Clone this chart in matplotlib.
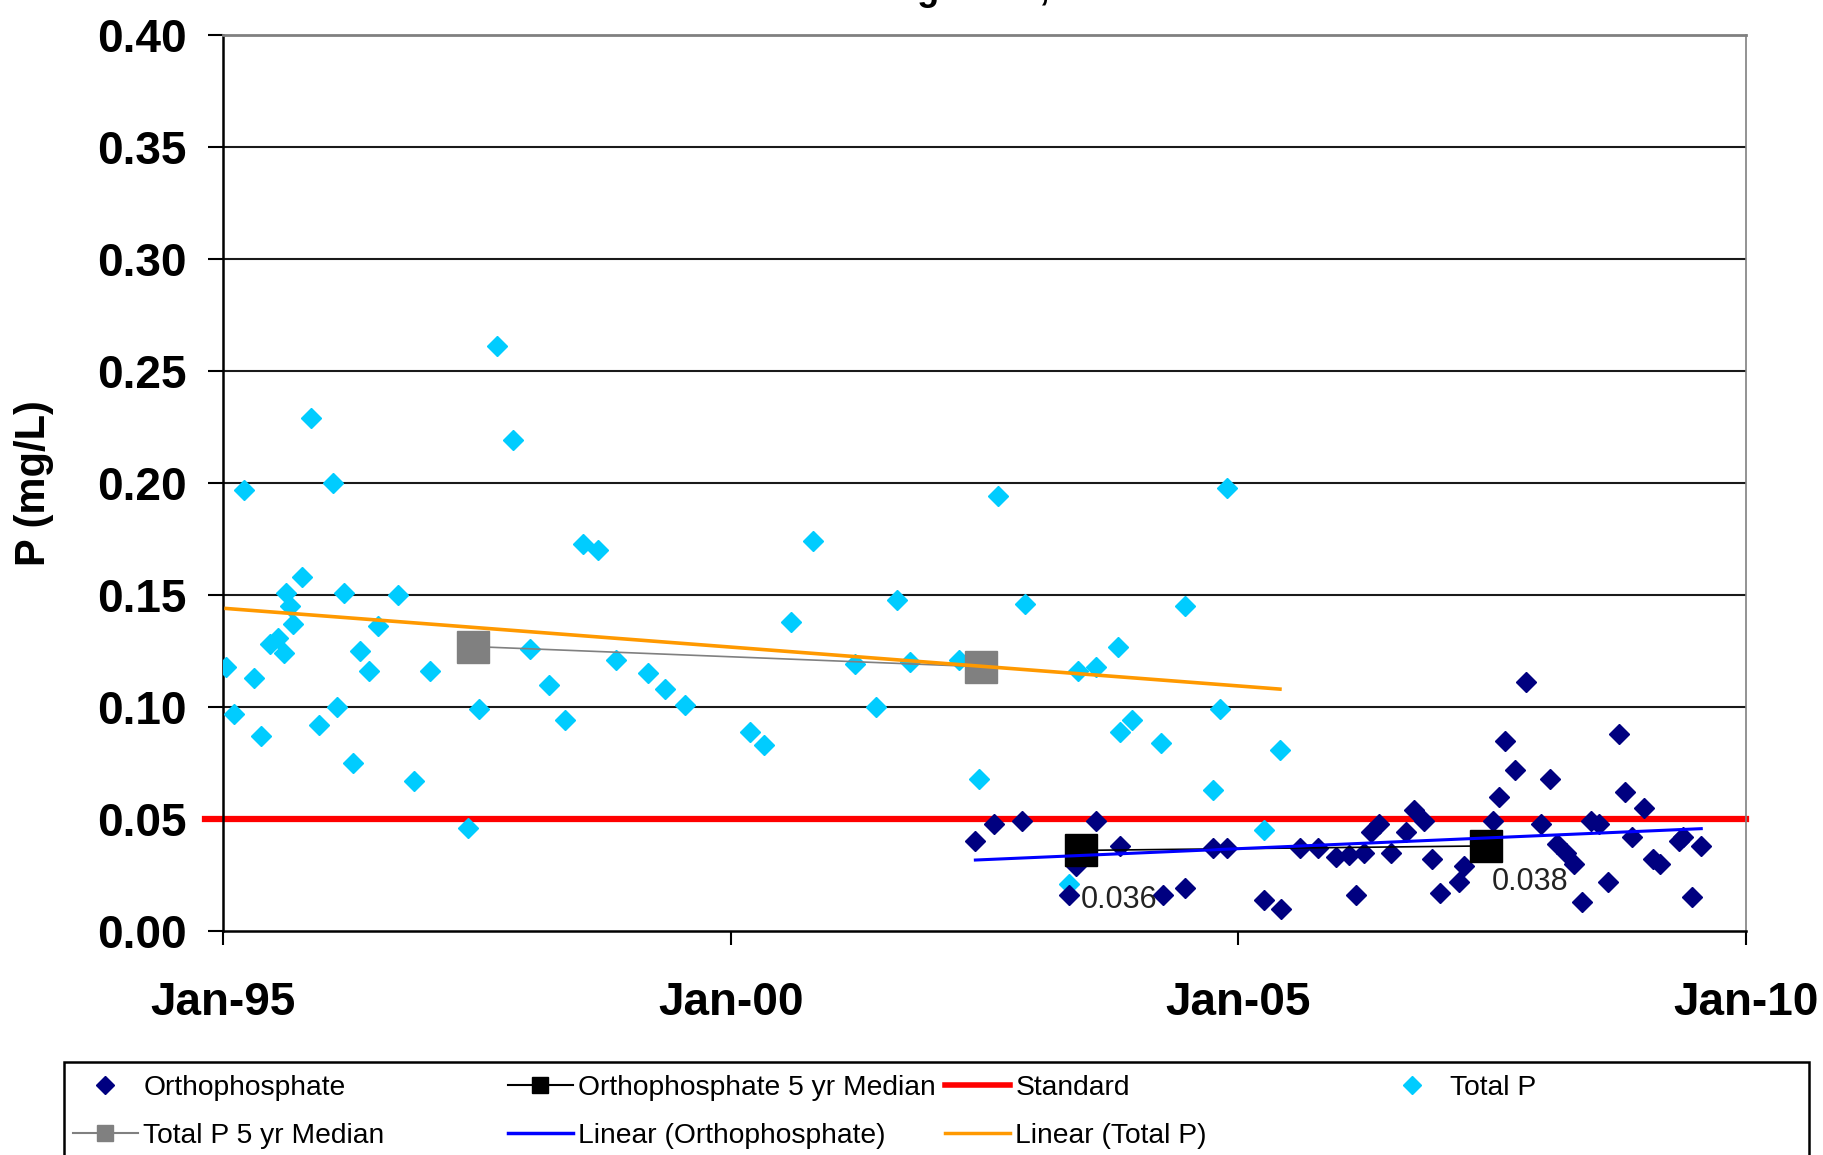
import numpy as np
import matplotlib
matplotlib.use('Agg')
import matplotlib.pyplot as plt
from matplotlib.lines import Line2D
from matplotlib.patches import Rectangle

plt.rcParams['font.family'] = ['Liberation Sans', 'DejaVu Sans']

# Total P samples (decimal year, mg/L)
tp_year = [1995.03, 1995.11, 1995.21, 1995.30, 1995.37, 1995.46, 1995.54, 1995.60,
           1995.62, 1995.66, 1995.69, 1995.78, 1995.87, 1995.94, 1996.08, 1996.12,
           1996.19, 1996.28, 1996.35, 1996.44, 1996.53, 1996.72, 1996.88, 1997.04,
           1997.41, 1997.52, 1997.70, 1997.86, 1998.02, 1998.21, 1998.37, 1998.55,
           1998.69, 1998.87, 1999.19, 1999.35, 1999.55, 2000.19, 2000.33, 2000.59,
           2000.81, 2001.22, 2001.43, 2001.64, 2001.77, 2002.25, 2002.45, 2002.63,
           2002.90, 2003.33, 2003.42, 2003.60, 2003.81, 2003.83, 2003.95, 2004.24,
           2004.47, 2004.75, 2004.82, 2004.89, 2005.25, 2005.41]
tp_val = [0.118, 0.097, 0.197, 0.113, 0.087, 0.128, 0.131, 0.124,
          0.151, 0.145, 0.137, 0.158, 0.229, 0.092, 0.200, 0.100,
          0.151, 0.075, 0.125, 0.116, 0.136, 0.150, 0.067, 0.116,
          0.046, 0.099, 0.261, 0.219, 0.126, 0.110, 0.094, 0.173,
          0.170, 0.121, 0.115, 0.108, 0.101, 0.089, 0.083, 0.138,
          0.174, 0.119, 0.100, 0.148, 0.120, 0.121, 0.068, 0.194,
          0.146, 0.021, 0.116, 0.118, 0.127, 0.089, 0.094, 0.084,
          0.145, 0.063, 0.099, 0.198, 0.045, 0.081]

# Orthophosphate samples
op_year = [2002.41, 2002.59, 2002.87, 2003.33, 2003.40, 2003.60, 2003.83, 2004.26,
           2004.47, 2004.75, 2004.89, 2005.25, 2005.42, 2005.61, 2005.78, 2005.96,
           2006.09, 2006.16, 2006.24, 2006.31, 2006.39, 2006.50, 2006.65, 2006.73,
           2006.83, 2006.91, 2006.99, 2007.17, 2007.22, 2007.51, 2007.57, 2007.63,
           2007.73, 2007.83, 2007.98, 2008.07, 2008.14, 2008.23, 2008.31, 2008.39,
           2008.47, 2008.55, 2008.64, 2008.75, 2008.81, 2008.88, 2009.00, 2009.08,
           2009.15, 2009.34, 2009.38, 2009.47, 2009.56]
op_val = [0.040, 0.048, 0.049, 0.016, 0.029, 0.049, 0.038, 0.016,
          0.019, 0.037, 0.037, 0.014, 0.010, 0.037, 0.037, 0.033,
          0.034, 0.016, 0.035, 0.044, 0.048, 0.035, 0.044, 0.054,
          0.049, 0.032, 0.017, 0.022, 0.029, 0.049, 0.060, 0.085,
          0.072, 0.111, 0.048, 0.068, 0.039, 0.035, 0.030, 0.013,
          0.049, 0.048, 0.022, 0.088, 0.062, 0.042, 0.055, 0.032,
          0.030, 0.040, 0.042, 0.015, 0.038]

# 5 yr medians
tp_med_year = [1997.46, 2002.47]
tp_med_val = [0.127, 0.118]
op_med_year = [2003.45, 2007.44]
op_med_val = [0.036, 0.038]
op_med_labels = ['0.036', '0.038']

# linear trendlines as drawn (end values)
tp_trend_year = [1995.03, 2005.41]
tp_trend_val = [0.144, 0.108]
op_trend_year = [2002.41, 2009.56]
op_trend_val = [0.0317, 0.0457]

# standard
std_year = [1994.82, 2010.0]
std_val = [0.05, 0.05]

x_ticks = [1995, 2000, 2005, 2010]
x_labels = ['Jan-95', 'Jan-00', 'Jan-05', 'Jan-10']
y_ticks = np.arange(0, 0.401, 0.05)

navy = '#000080'
cyan = '#00CCFF'

fig = plt.figure(figsize=(18.24, 11.55), dpi=100)
ax = fig.add_axes([0.1223, 0.1939, 0.8349, 0.7758])

for yv in y_ticks[1:-1]:
    ax.axhline(yv, color='#1a1a1a', lw=1.5, zorder=0)

ax.plot(std_year, std_val, color='#FF0000', lw=4.5, zorder=2, clip_on=False)
ax.plot(tp_year, tp_val, ls='none', marker='D', ms=10.5, color=cyan, zorder=3)
ax.plot(op_year, op_val, ls='none', marker='D', ms=10.5, color=navy, zorder=3)
ax.plot(tp_med_year, tp_med_val, color='#808080', lw=1.2, marker='s', ms=22.5,
        markerfacecolor='#808080', markeredgecolor='#808080', zorder=4)
ax.plot(op_med_year, op_med_val, color='black', lw=1.2, marker='s', ms=22.5,
        markerfacecolor='black', zorder=4)

ax.plot(tp_trend_year, tp_trend_val, color='#FF9900', lw=2.6, zorder=5)
ax.plot(op_trend_year, op_trend_val, color='#0000FF', lw=2.2, zorder=5)

offs = [(0, -36), (4, -26)]
for xv, yv, lab, o in zip(op_med_year, op_med_val, op_med_labels, offs):
    ax.annotate(lab, (xv, yv), xytext=o, textcoords='offset points',
                ha='left', va='center', fontsize=22, color='#222222', zorder=6)

ax.set_xlim(1995, 2010)
ax.set_ylim(0, 0.40)
ax.set_xticks(x_ticks)
ax.set_xticklabels(x_labels)
ax.set_yticks(y_ticks)
ax.set_yticklabels(['%.2f' % v for v in y_ticks])
ax.tick_params(axis='y', direction='out', length=11, width=1.5, pad=15, labelsize=33)
ax.tick_params(axis='x', direction='out', length=10, width=1.5, pad=26, labelsize=33)
for t in ax.get_xticklabels() + ax.get_yticklabels():
    t.set_fontweight('bold')

ax.spines['left'].set_color('black')
ax.spines['left'].set_linewidth(1.8)
ax.spines['bottom'].set_color('black')
ax.spines['bottom'].set_linewidth(1.8)
ax.spines['top'].set_color('#808080')
ax.spines['top'].set_linewidth(2)
ax.spines['right'].set_color('#808080')
ax.spines['right'].set_linewidth(1.2)

ax.set_ylabel('P (mg/L)', fontsize=30, fontweight='bold')
ax.yaxis.set_label_coords(-0.111, 0.5)

fig.text(0.4666, 1.0, 'Long Pond, Site 1', fontsize=26, fontweight='bold',
         ha='left', va='baseline')

# legend, four equal-width columns in a box
h_op = Line2D([], [], ls='none', marker='D', ms=9, color=navy)
h_tp = Line2D([], [], ls='none', marker='D', ms=9, color=cyan)
h_opm = Line2D([], [], color='black', lw=1.5, marker='s', ms=11)
h_tpm = Line2D([], [], color='#808080', lw=1.5, marker='s', ms=11)
h_std = Line2D([], [], color='#FF0000', lw=4)
h_lop = Line2D([], [], color='#0000FF', lw=2.5)
h_ltp = Line2D([], [], color='#FF9900', lw=2.5)
cols = [([h_op, h_tpm], ['Orthophosphate', 'Total P 5 yr Median']),
        ([h_opm, h_lop], ['Orthophosphate 5 yr Median', 'Linear (Orthophosphate)']),
        ([h_std, h_ltp], ['Standard', 'Linear (Total P)']),
        ([h_tp], ['Total P'])]
col_x = [73, 508, 945, 1380]
for (hs, ls_), cx in zip(cols, col_x):
    lg = fig.legend(hs, ls_, loc='upper left', bbox_to_anchor=(cx / 1824, 1 - 1075 / 1155),
                    frameon=False, fontsize=20.3, handlelength=2.3, handletextpad=0.2,
                    borderpad=0, borderaxespad=0, labelspacing=0.78, numpoints=1)
fig.patches.append(Rectangle((64 / 1824, -0.05), (1809 - 64) / 1824, 0.05 + 1 - 1062 / 1155,
                             transform=fig.transFigure, fill=False, edgecolor='black', lw=1.8))

fig.savefig('out.png', dpi=100)
